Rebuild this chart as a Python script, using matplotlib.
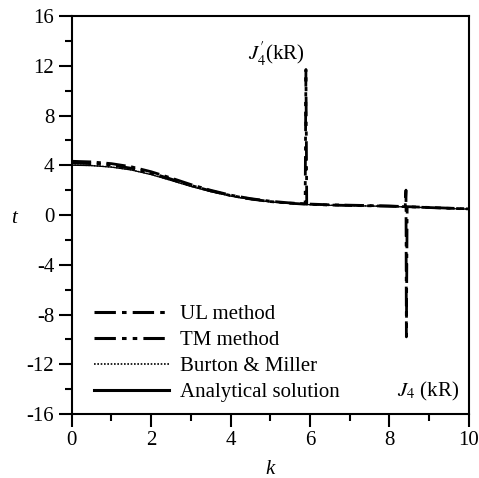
import matplotlib
matplotlib.use("Agg")
import matplotlib.pyplot as plt
from matplotlib.ticker import MultipleLocator

plt.rcParams['font.family'] = ['Liberation Serif', 'DejaVu Serif']
plt.rcParams['mathtext.fontset'] = 'stix'
plt.rcParams['axes.unicode_minus'] = False

# smooth part of the curves
k_smooth = [0, 0.5, 1.0, 1.5, 2.0, 2.5, 3.0, 3.5, 4.0, 4.5, 5.0, 5.5, 6.0,
            6.5, 7.0, 7.5, 8.0, 8.5, 9.0, 9.5, 10.0]
t_analytical = [4.00, 3.97, 3.85, 3.62, 3.25, 2.78, 2.30, 1.88, 1.52, 1.25, 1.05,
                0.92, 0.83, 0.78, 0.75, 0.72, 0.69, 0.64, 0.58, 0.52, 0.47]
t_burton = [4.02, 3.98, 3.86, 3.63, 3.26, 2.79, 2.31, 1.89, 1.53, 1.26, 1.06,
            0.93, 0.84, 0.79, 0.76, 0.73, 0.70, 0.65, 0.59, 0.53, 0.48]

# UL method: fails near zero of J4(kR)
k_ul = [0, 0.5, 1.0, 1.5, 2.0, 2.5, 3.0, 3.5, 4.0, 4.5, 5.0, 5.5, 6.0,
        6.5, 7.0, 7.5, 8.0, 8.40, 8.42, 8.43, 8.45, 9.0, 9.5, 10.0]
t_ul = [4.32, 4.27, 4.13, 3.88, 3.48, 2.98, 2.45, 1.99, 1.60, 1.32, 1.11,
        0.97, 0.88, 0.82, 0.79, 0.76, 0.72, 0.68, 2.0, -9.8, 0.67, 0.61, 0.55, 0.50]

# TM method: fails near zero of J4'(kR)
k_tm = [0, 0.5, 1.0, 1.5, 2.0, 2.5, 3.0, 3.5, 4.0, 4.5, 5.0, 5.5, 5.88,
        5.90, 5.92, 6.0, 6.5, 7.0, 7.5, 8.0, 8.5, 9.0, 9.5, 10.0]
t_tm = [4.18, 4.13, 4.01, 3.76, 3.38, 2.89, 2.38, 1.94, 1.57, 1.29, 1.08,
        0.95, 0.87, 11.7, 0.87, 0.86, 0.80, 0.77, 0.74, 0.71, 0.66, 0.60, 0.54, 0.49]

fig = plt.figure(figsize=(4.79, 4.78), dpi=100)
ax = fig.add_axes([0.1497, 0.1339, 0.8288, 0.8326])

ax.plot(k_ul, t_ul, color='black', lw=2.0, linestyle=(0, (7, 2, 1.5, 2)), label='UL method')
ax.plot(k_tm, t_tm, color='black', lw=2.0, linestyle=(0, (7, 2, 1.5, 2, 1.5, 2)), label='TM method')
ax.plot(k_smooth, t_burton, color='black', lw=1.0, linestyle=(0, (1, 1)), label='Burton & Miller')
ax.plot(k_smooth, t_analytical, color='black', lw=0.9, label='Analytical solution')

ax.set_xlim(0, 10)
ax.set_ylim(-16, 16)
ax.xaxis.set_major_locator(MultipleLocator(2))
ax.xaxis.set_minor_locator(MultipleLocator(1))
ax.yaxis.set_major_locator(MultipleLocator(4))
ax.yaxis.set_minor_locator(MultipleLocator(2))
ax.tick_params(which='both', direction='out', width=1.5, labelsize=15, top=False, right=False)
ax.tick_params(which='major', length=9.5, pad=3)
ax.tick_params(which='minor', length=5)
for sp in ax.spines.values():
    sp.set_linewidth(1.5)

ax.set_xlabel('k', fontsize=15, fontstyle='italic')
ax.set_ylabel('t', fontsize=15, fontstyle='italic', rotation=0, va='center')
ax.xaxis.set_label_coords(0.5, -0.115)
ax.yaxis.set_label_coords(-0.145, 0.49)

ax.text(4.45, 12.9, r"$J_4^{\prime}$(kR)", fontsize=15, va='center', ha='left')
ax.text(8.19, -14.2, r"$J_4$ (kR)", fontsize=15, va='center', ha='left')

leg = ax.legend(loc='lower left', bbox_to_anchor=(0.045, 0.02), frameon=False,
                fontsize=15, handlelength=3.6, handletextpad=0.55,
                labelspacing=0.3, borderpad=0.2, borderaxespad=0)
for ln in leg.get_lines():
    ln.set_linewidth(2.2)
leg.get_lines()[2].set_linewidth(1.2)

fig.savefig('out.png', dpi=100)
